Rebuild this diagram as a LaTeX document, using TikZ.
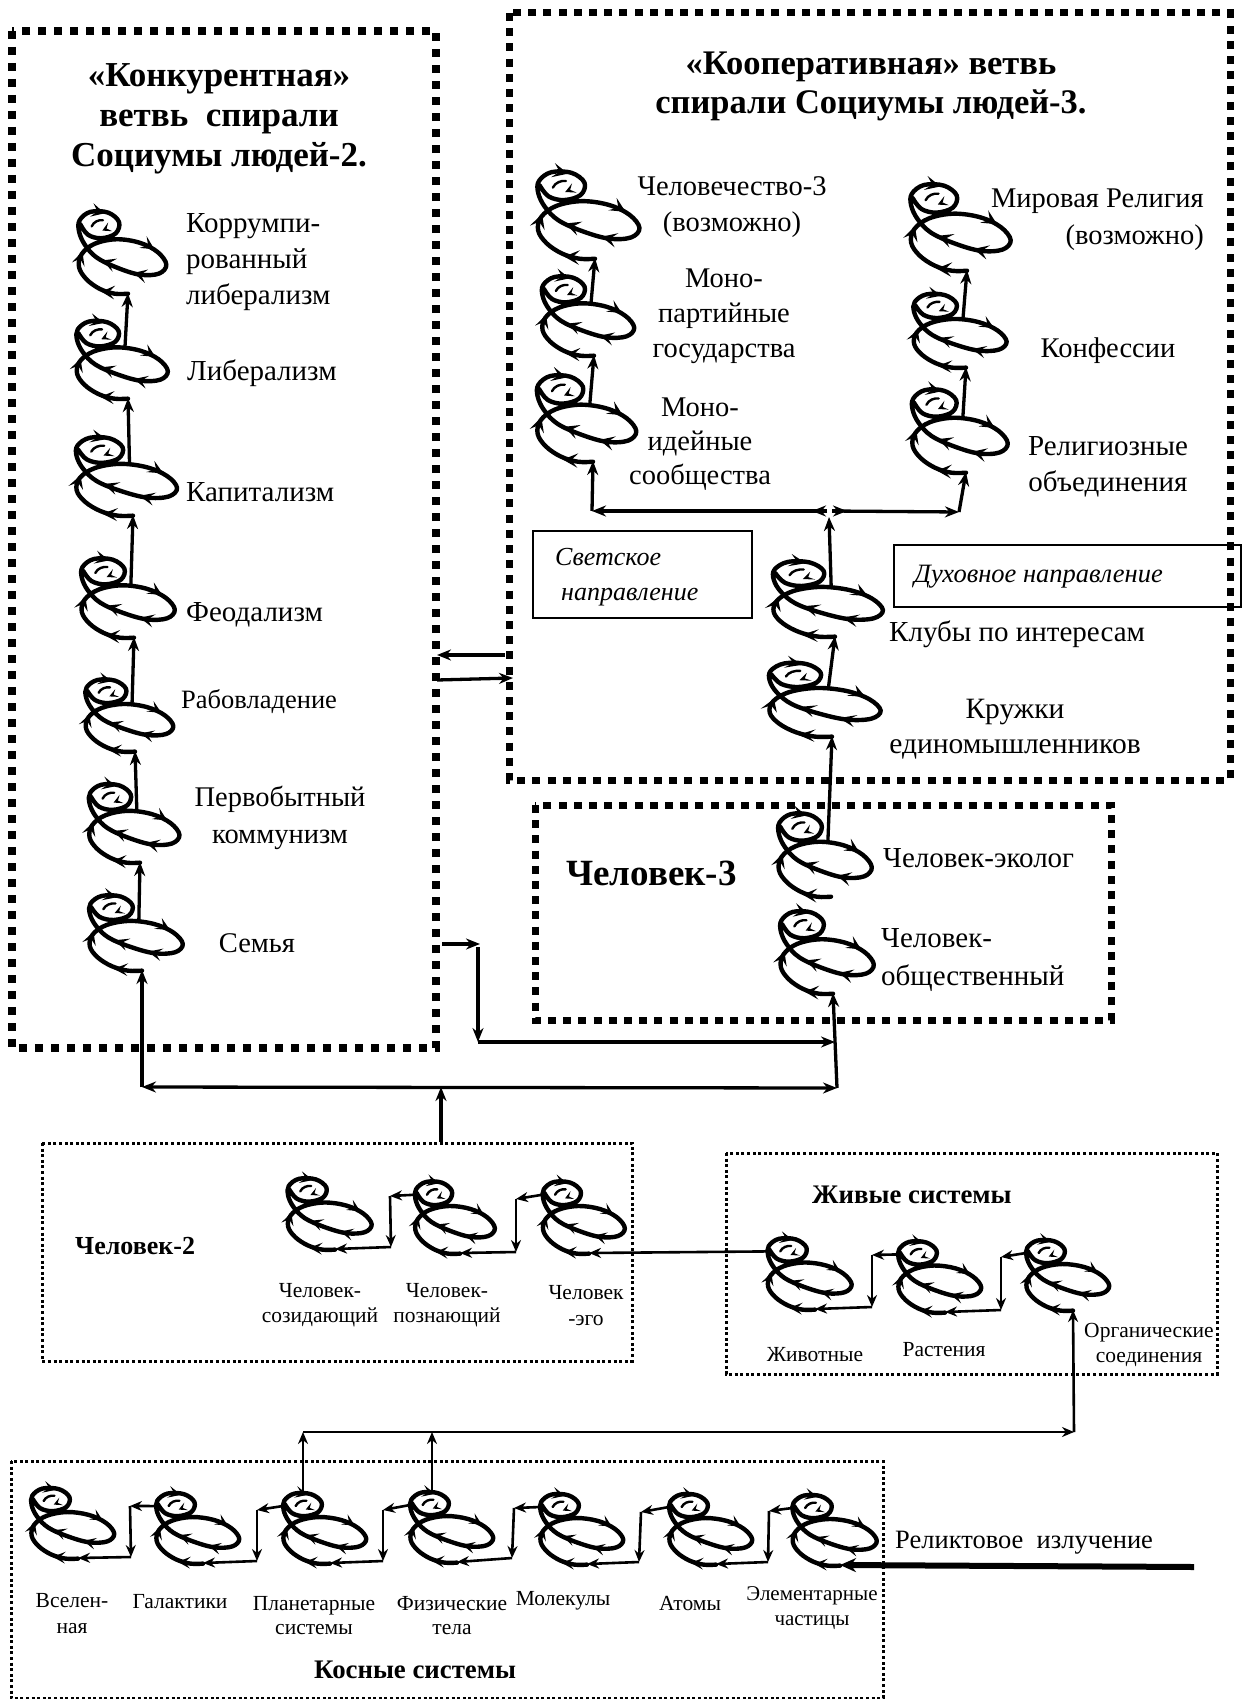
\documentclass[tikz,border=0pt]{standalone}
\usepackage{fontspec}
\setmainfont{Liberation Serif}
\usetikzlibrary{arrows.meta}
\tikzset{
  x=1pt,y=-1pt,
  coil/.style={line width=4.4pt,line join=round,line cap=round},
  bigbox/.style={line width=8pt,dash pattern=on 8pt off 8pt},
  midbox/.style={line width=7pt,dash pattern=on 8pt off 7.2pt},
  smallbox/.style={line width=3pt,dash pattern=on 3pt off 2.6pt},
  plainbox/.style={draw,line width=1.6pt},
  conn/.style={line width=3.3pt,-{Stealth[length=14pt,width=11pt]}},
  thin conn/.style={line width=2.6pt,-{Stealth[length=12pt,width=10pt]}},
  txt/.style={inner sep=0pt,align=center},
  ltxt/.style={inner sep=0pt,align=left},
}
\newcommand{\fs}[2]{\fontsize{#1}{#2}\selectfont}
\newcommand{\barb}[3]{\fill[shift={(#1,#2)},rotate=#3] (0,0)--(-40,20)--(-22,0)--(-40,-20)--cycle;}
\newcommand{\tinybarb}[3]{\fill[shift={(#1,#2)},rotate=#3] (0,0)--(-26,14)--(-14,0)--(-26,-14)--cycle;}
% name, base x, base y, x scale, y scale
\newcommand{\spiral}[5]{%
\begin{scope}[shift={(#2,#3)},xscale=#4,yscale=#5,scale=0.33333,shift={(-205,-310)}]
  \draw[coil] plot[smooth,tension=0.6] coordinates {(205,312)(165,312)(120,298)(80,270)(58,235)(66,198)(105,168)(170,155)(240,165)(294,192)(320,228)(298,254)(240,257)(170,236)(110,207)(75,170)(58,132)(60,100)(92,76)(145,78)(178,105)(168,138)(125,152)(85,142)(62,112)};
  \draw[line width=2.4pt,line cap=round] (96,118) .. controls (102,104) and (118,98) .. (130,100);
  \barb{125}{306}{176}\barb{68}{190}{72}\barb{284}{184}{-32}\barb{222}{252}{166}
  \barb{128}{216}{160}\barb{135}{80}{-14}\tinybarb{128}{130}{205}
  \coordinate (#1-b) at (205,310);
  \coordinate (#1-s) at (196,160);
  \coordinate (#1-l) at (55,118);
\end{scope}}
\begin{document}
\begin{tikzpicture}
\useasboundingbox (0,0) rectangle (1244,1699);
\fill[white] (0,0) rectangle (1244,1699);
% boxes
\draw[bigbox] (12,31) rectangle (436,1048);
\draw[midbox] (509,13) rectangle (1230,780);
\draw[midbox] (535,805) rectangle (1111,1020);
\draw[smallbox] (42,1143) rectangle (632,1361);
\draw[smallbox] (726,1153) rectangle (1217,1374);
\draw[smallbox] (11,1461) rectangle (883,1698);
\node[plainbox,minimum width=219pt,minimum height=87pt,inner sep=0pt] (rs) at (642.5,574.5) {};
\node[plainbox,minimum width=347pt,minimum height=62pt,inner sep=0pt] (rd) at (1067.5,576) {};
% spirals: left column
\spiral{a1}{128}{293}{1.0}{1.04}
\spiral{a2}{128}{398}{1.04}{0.98}
\spiral{a3}{133}{515}{1.15}{0.99}
\spiral{a4}{134}{637}{1.065}{1.0}
\spiral{a5}{135}{751}{1.0}{0.91}
\spiral{a6}{140}{862}{1.03}{0.99}
\spiral{a7}{142}{970}{1.065}{0.95}
% cooperative
\spiral{c1}{595}{258}{1.16}{1.1}
\spiral{c2}{594}{355}{1.05}{1.0}
\spiral{c3}{593}{461}{1.13}{1.09}
\spiral{r1}{967}{270}{1.14}{1.09}
\spiral{r2}{966}{367}{1.06}{0.93}
\spiral{r3}{966}{472}{1.09}{1.05}
\spiral{k1}{835}{636}{1.25}{0.95}
\spiral{k2}{832}{736}{1.27}{0.93}
\spiral{e1}{831}{896}{1.065}{1.05}
\spiral{e2}{833}{993}{1.065}{1.04}
% man-2
\spiral{h1}{335}{1249}{0.957}{0.9}
\spiral{h2}{460}{1253}{0.91}{0.91}
\spiral{h3}{589}{1253}{0.935}{0.91}
% living
\spiral{z1}{815}{1309}{0.957}{0.9}
\spiral{z2}{945}{1312}{0.946}{0.9}
\spiral{z3}{1073}{1310}{0.946}{0.89}
% inert
\spiral{n1}{78}{1558}{0.946}{0.89}
\spiral{n2}{203}{1563}{0.946}{0.89}
\spiral{n3}{330}{1563}{0.946}{0.89}
\spiral{n4}{457}{1562}{0.946}{0.89}
\spiral{n5}{587}{1564}{0.946}{0.89}
\spiral{n6}{716}{1564}{0.946}{0.89}
\spiral{n7}{840}{1565}{0.96}{0.89}
% junction coordinates
\coordinate (j1) at (142,1087);
\coordinate (j2) at (837,1088);
\coordinate (j3) at (441,1087);
\coordinate (j4) at (441,1142);
\coordinate (j5) at (442,944);
\coordinate (j6) at (480,944);
\coordinate (j7) at (478,947);
\coordinate (j8) at (478,1042);
\coordinate (j9) at (835,1042);
\coordinate (m1) at (592,511);
\coordinate (m2) at (959,512);
\coordinate (m3) at (827,511);
\coordinate (m4) at (832,511);
\coordinate (m5) at (829,517);
\coordinate (m6) at (812,511);
\coordinate (m7) at (847,511);
\coordinate (lk1) at (505,655);
\coordinate (lk2) at (437,655);
\coordinate (lk3) at (437,680);
\coordinate (lk4) at (513,678);
\coordinate (u1) at (1074,1432);
\coordinate (u2) at (303,1432);
\coordinate (u3) at (432,1432);
\coordinate (rl) at (1194,1567);
% vertical chains
\draw[conn] (a2-s) -- (a1-b);
\draw[conn] (a3-s) -- (a2-b);
\draw[conn] (a4-s) -- (a3-b);
\draw[conn] (a5-s) -- (a4-b);
\draw[conn] (a6-s) -- (a5-b);
\draw[conn] (a7-s) -- (a6-b);
\draw[conn] (j1) -- (a7-b);
\draw[conn,{Stealth[length=14pt,width=11pt]}-{Stealth[length=14pt,width=11pt]}] (j1) -- (j2);
\draw[conn] (j4) -- (j3);
\draw[conn] (j5) -- (j6);
\draw[conn] (j7) -- (j8);
\draw[conn] (j8) -- (j9);
\draw[conn] (j2) -- (e2-b);
\draw[conn] (c2-s) -- (c1-b);
\draw[conn] (c3-s) -- (c2-b);
\draw[conn] (r2-s) -- (r1-b);
\draw[conn] (r3-s) -- (r2-b);
\draw[conn] (m1) -- (c3-b);
\draw[conn] (m2) -- (r3-b);
\draw[conn] (m3) -- (m1);
\draw[conn] (m4) -- (m2);
\draw[conn] (m3) -- (m6);
\draw[conn] (m4) -- (m7);
\draw[conn] (k1-s) -- (m5);
\draw[conn] (k2-s) -- (k1-b);
\draw[conn] (e1-s) -- (k2-b);
\draw[conn] (lk1) -- (lk2);
\draw[conn] (lk3) -- (lk4);
% man-2 chain
\coordinate (h1a) at (390,1196);\coordinate (h1b) at (391,1247);
\coordinate (h2a) at (516,1199);\coordinate (h2b) at (516,1252);
\draw[thin conn] (h2-l) -- (h1a);\draw[thin conn] (h1a) -- (h1b);\draw[thin conn] (h1b) -- (h1-b);
\draw[thin conn] (h3-l) -- (h2a);\draw[thin conn] (h2a) -- (h2b);\draw[thin conn] (h2b) -- (h2-b);
\draw[thin conn] (z1-l) -- (h3-b);
% living chain
\coordinate (z1a) at (872,1255);\coordinate (z1b) at (872,1307);
\coordinate (z2a) at (1001,1257);\coordinate (z2b) at (1001,1310);
\draw[thin conn] (z2-l) -- (z1a);\draw[thin conn] (z1a) -- (z1b);\draw[thin conn] (z1b) -- (z1-b);
\draw[thin conn] (z3-l) -- (z2a);\draw[thin conn] (z2a) -- (z2b);\draw[thin conn] (z2b) -- (z2-b);
\draw[thin conn] (u1) -- (z3-b);
% inert chain
\coordinate (n1a) at (130,1506);\coordinate (n1b) at (131,1557);
\coordinate (n2a) at (257,1510);\coordinate (n2b) at (257,1561);
\coordinate (n3a) at (383,1510);\coordinate (n3b) at (383,1561);
\coordinate (n4a) at (514,1508);\coordinate (n4b) at (512,1558);
\coordinate (n5a) at (641,1512);\coordinate (n5b) at (639,1562);
\coordinate (n6a) at (769,1511);\coordinate (n6b) at (768,1562);
\draw[thin conn] (n2-l) -- (n1a);\draw[thin conn] (n1a) -- (n1b);\draw[thin conn] (n1b) -- (n1-b);
\draw[thin conn] (n3-l) -- (n2a);\draw[thin conn] (n2a) -- (n2b);\draw[thin conn] (n2b) -- (n2-b);
\draw[thin conn] (n4-l) -- (n3a);\draw[thin conn] (n3a) -- (n3b);\draw[thin conn] (n3b) -- (n3-b);
\draw[thin conn] (n5-l) -- (n4a);\draw[thin conn] (n4a) -- (n4b);\draw[thin conn] (n4b) -- (n4-b);
\draw[thin conn] (n6-l) -- (n5a);\draw[thin conn] (n5a) -- (n5b);\draw[thin conn] (n5b) -- (n5-b);
\draw[thin conn] (n7-l) -- (n6a);\draw[thin conn] (n6a) -- (n6b);\draw[thin conn] (n6b) -- (n6-b);
\coordinate (n3t) at (303,1493);\coordinate (n4t) at (432,1493);
\draw[thin conn] (n3t) -- (u2);
\draw[thin conn] (n4t) -- (u3);
\draw[thin conn] (u2) -- (u1);
\draw[line width=6pt,-{Stealth[length=16pt,width=14pt]}] (rl) -- (n7-b);
% texts
\node[txt,font=\bfseries\fs{35}{40}] (t1) at (219,119) {«Конкурентная»\\ветвь\ \ спирали\\Социумы людей-2.};
\node[ltxt,anchor=west,font=\fs{29}{36}] (t2) at (186,262) {Коррумпи-\\рованный\\либерализм};
\node[ltxt,anchor=west,font=\fs{29}{36}] (t3) at (187,373) {Либерализм};
\node[ltxt,anchor=west,font=\fs{29}{36}] (t4) at (186,492) {Капитализм};
\node[ltxt,anchor=west,font=\fs{29}{36}] (t5) at (186,615) {Феодализм};
\node[ltxt,anchor=west,font=\fs{26.5}{32}] (t6) at (181,702) {Рабовладение};
\node[txt,font=\fs{28.5}{37}] (t7) at (280,818) {Первобытный\\коммунизм};
\node[txt,font=\fs{28.5}{37}] (t8) at (257,943) {Семья};
\node[txt,font=\bfseries\fs{34.5}{39}] (t9) at (871,86) {«Кооперативная» ветвь\\спирали Социумы людей-3.};
\node[txt,font=\fs{28.5}{36}] (t10) at (732,207) {Человечество-3\\(возможно)};
\node[txt,font=\fs{28.5}{35}] (t11) at (724,316) {Моно-\\партийные\\государства};
\node[txt,font=\fs{28.5}{34}] (t12) at (700,444) {Моно-\\идейные\\сообщества};
\node[txt,anchor=east,font=\fs{28.5}{37},align=right] (t13) at (1204,220) {Мировая Религия\\(возможно)};
\node[txt,font=\fs{28.5}{36}] (t14) at (1108,351) {Конфессии};
\node[txt,font=\fs{29}{36}] (t15) at (1108,467) {Религиозные\\объединения};
\node[ltxt,anchor=west,font=\itshape\fs{26}{35}] (t16) at (555,577) {Светское\\\hspace*{6pt}направление};
\node[ltxt,anchor=west,font=\itshape\fs{26.5}{32}] (t17) at (914,577) {Духовное направление};
\node[ltxt,anchor=west,font=\fs{29}{36}] (t18) at (889,634) {Клубы по интересам};
\node[txt,font=\fs{29.5}{35}] (t19) at (1015,729) {Кружки\\единомышленников};
\node[ltxt,anchor=west,font=\bfseries\fs{37}{40}] (t20) at (566,873) {Человек-3};
\node[ltxt,anchor=west,font=\fs{29}{36}] (t21) at (883,858) {Человек-эколог};
\node[ltxt,anchor=west,font=\fs{29}{38}] (t22) at (881,960) {Человек-\\общественный};
\node[ltxt,anchor=west,font=\bfseries\fs{26}{30}] (t23) at (75,1246) {Человек-2};
\node[txt,font=\fs{21.5}{25}] (t24) at (320,1305) {Человек-\\созидающий};
\node[txt,font=\fs{21.5}{25}] (t25) at (447,1305) {Человек-\\познающий};
\node[txt,font=\fs{21.5}{26}] (t26) at (586,1306) {Человек\\-эго};
\node[ltxt,anchor=west,font=\bfseries\fs{26.8}{30}] (t27) at (812,1195) {Живые системы};
\node[txt,font=\fs{21.5}{25}] (t28) at (815,1355) {Животные};
\node[txt,font=\fs{21.5}{25}] (t29) at (944,1350) {Растения};
\node[txt,font=\fs{21.5}{25}] (t30) at (1149,1345) {Органические\\соединения};
\node[txt,font=\fs{21.5}{26}] (t31) at (72,1614) {Вселен-\\ная};
\node[txt,font=\fs{21.5}{25}] (t32) at (180,1602) {Галактики};
\node[txt,font=\fs{21.5}{24}] (t33) at (314,1616) {Планетарные\\системы};
\node[txt,font=\fs{21.5}{24}] (t34) at (452,1616) {Физические\\тела};
\node[txt,font=\fs{21.5}{25}] (t35) at (563,1601) {Молекулы};
\node[txt,font=\fs{21.5}{25}] (t36) at (690,1603) {Атомы};
\node[txt,font=\fs{21}{25}] (t37) at (812,1608) {Элементарные\\частицы};
\node[ltxt,anchor=west,font=\fs{26.5}{32}] (t38) at (895,1543) {Реликтовое\ \ излучение};
\node[ltxt,anchor=west,font=\bfseries\fs{26.8}{30}] (t39) at (314,1670) {Косные системы};
\end{tikzpicture}
\end{document}
